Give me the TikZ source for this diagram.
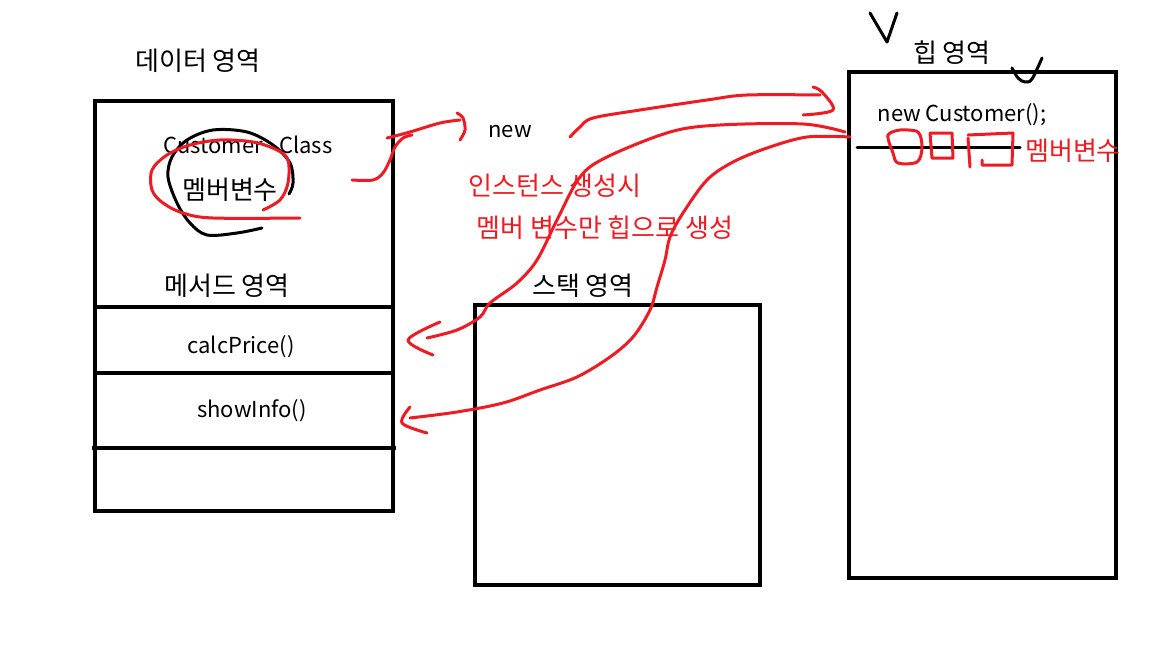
\documentclass[tikz,border=0pt]{standalone}
\usepackage{fontspec}
\setmainfont{Noto Sans CJK KR}
\usetikzlibrary{positioning}
\definecolor{penred}{HTML}{ED1C24}
\tikzset{
  areabox/.style={draw=black, line width=4pt, inner sep=0pt},
  arealine/.style={draw=black, line width=4pt},
  label/.style={text=black, inner sep=0pt, anchor=center, font=\fontsize{22}{26}\selectfont},
  korlabel/.style={label, font=\fontsize{26}{30}\selectfont},
  rednote/.style={korlabel, text=penred},
  penline/.style={draw=penred, line width=3pt, line cap=round, line join=round},
  penblack/.style={draw=black, line width=3pt, line cap=round, line join=round},
  stroke/.style={smooth, tension=0.55}
}
\begin{document}
\begin{tikzpicture}[x=1pt,y=-1pt]
\useasboundingbox[fill=white] (0,0) rectangle (1152,648);

% data area with its method slots
\node[areabox, minimum width=298pt, minimum height=410pt] (data) at (244,306) {};
\draw[arealine] (95,307) -- (393,307);
\draw[arealine] (95,373) -- (393,373);
\draw[arealine] (92,448) -- (396,448);
\node[korlabel] (datatitle) at (198,61) {데이터 영역};
\node[label] (cls) at (248,145) {Customer\hspace{16pt}Class};
\node[korlabel] (member) at (230,190) {멤버변수};
\node[korlabel] (methodtitle) at (227,286) {메서드 영역};
\node[label] (calc) at (241,347) {calcPrice()};
\node[label] (show) at (252,411) {showInfo()};

% stack and heap
\node[areabox, minimum width=285pt, minimum height=280pt] (stack) at (617.5,445) {};
\node[korlabel] (stacktitle) at (583,286) {스택 영역};
\node[areabox, minimum width=267pt, minimum height=506pt] (heap) at (982.5,325) {};
\node[korlabel] (heaptitle) at (952,53) {힙 영역};
\node[label] (newcust) at (962,115) {new Customer();};
\draw[arealine, line width=3pt, line cap=round] (857,147) -- (1020,147);
\node[rednote] (heapmember) at (1073,151) {멤버변수};

% notes between the areas
\node[label] (newword) at (510,132) {new};
\node[rednote] (note1) at (555,186) {인스턴스 생성시};
\node[rednote] (note2) at (605,228) {멤버 변수만 힙으로 생성};

% hand marks
\draw[penblack] plot[stroke] coordinates {(262,228) (237,233) (207,235) (190,223) (177,203) (168,177) (172,157) (187,140) (213,130) (247,132) (273,145) (290,163) (293,183) (289,194)};
\draw[penline] plot[stroke] coordinates {(263,210) (280,200) (288,183) (288,160) (277,150) (253,142) (220,140) (190,145) (167,155) (152,170) (152,190) (163,203) (183,213) (213,218) (300,218)};
\draw[penblack] (870,13) -- (887,42) -- (897,13);
\draw[penblack] plot[stroke] coordinates {(1012,68) (1018,78) (1025,82) (1032,79) (1042,58)};
\draw[penline] plot[stroke] coordinates {(900,130) (888,135) (893,153) (898,163) (917,162) (922,148) (918,132) (900,130)};
\draw[penline] (930,133) -- (952,133) -- (953,158) -- (932,158) -- (930,133);
\draw[penline] (968,138) -- (970,167);
\draw[penline] (968,135) -- (1013,133) -- (1012,165) -- (982,165) -- (982,160);

% data -> new
\coordinate (fromdata) at (352,180);
\draw[penline] plot[stroke] coordinates {(fromdata) (373,180) (383,173) (390,160) (395,147) (403,138) (412,135)};
\draw[penline] plot[stroke] coordinates {(387,138) (410,132) (440,123) (460,120)};
\draw[penline] plot[stroke] coordinates {(457,113) (463,118) (465,130) (460,140)};

% new -> heap
\coordinate (toheap) at (820,95);
\draw[penline] plot[stroke] coordinates {(570,137) (580,127) (593,118) (640,110) (707,100) (747,95) (toheap)};
\draw[penline] plot[stroke] coordinates {(813,87) (822,92) (833,110) (803,115)};

% heap -> calcPrice()
\coordinate (tocalc) at (427,338);
\draw[penline] plot[stroke] coordinates {(845,132) (803,124) (720,125) (670,132) (607,157) (580,177) (557,220) (537,260) (517,283) (490,303) (480,317) (457,330) (tocalc)};
\draw[penline] plot[stroke] coordinates {(440,322) (408,340) (433,355)};

% heap -> showInfo()
\coordinate (toshow) at (410,418);
\draw[penline] plot[stroke] coordinates {(850,137) (807,137) (767,148) (733,162) (707,180) (683,213) (670,237) (665,260) (657,287) (650,310) (633,337) (610,357) (577,377) (540,390) (503,403) (457,412) (toshow)};
\draw[penline] plot[stroke] coordinates {(410,407) (402,423) (427,433)};
\end{tikzpicture}
\end{document}
